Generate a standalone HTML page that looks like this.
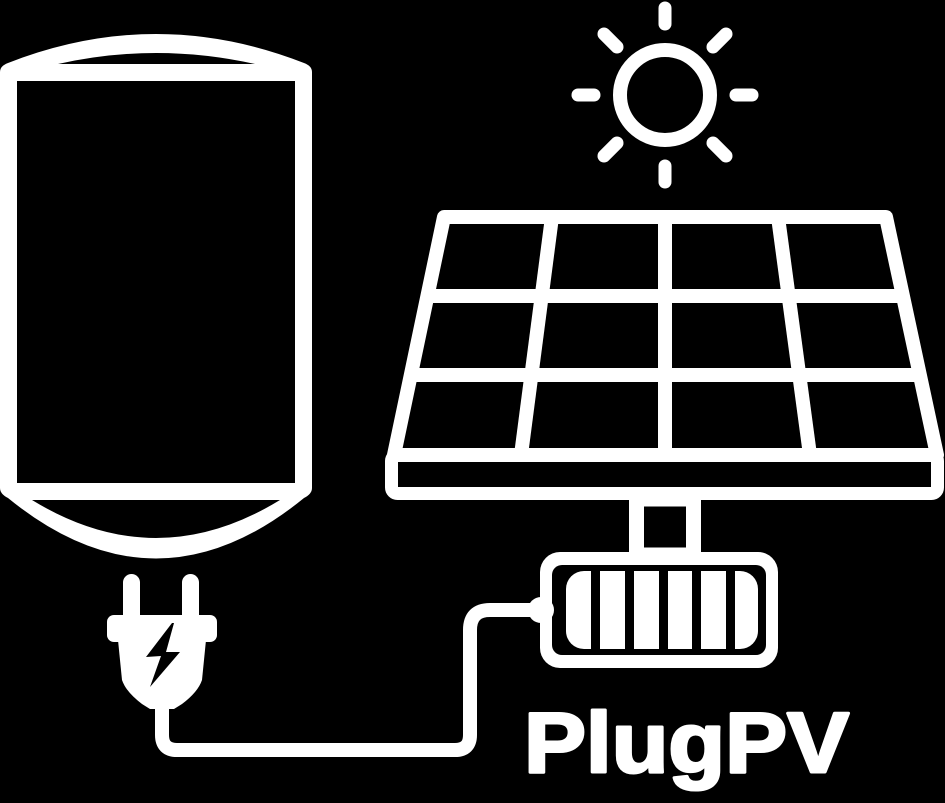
<!DOCTYPE html>
<html><head><meta charset="utf-8"><style>html,body{margin:0;padding:0;background:#000;}svg{display:block}</style></head>
<body>
<svg width="945" height="803" viewBox="0 0 945 803" xmlns="http://www.w3.org/2000/svg">
<rect width="945" height="803" fill="#000"/>
<!-- tank -->
<path d="M0,72 Q0,66 8,63 Q156,5 304,63 Q312,66 312,72 L312,488 Q312,494 304,498 Q156,619 8,498 Q0,494 0,488 Z" fill="#fff"/>
<path d="M58,64 Q156,42 255,64 Z" fill="#000"/>
<rect x="17" y="81" width="278" height="402" fill="#000"/>
<path d="M32,500 Q156,576 280,500 Z" fill="#000"/>
<!-- sun -->
<g stroke="#fff" stroke-width="13" stroke-linecap="round" fill="none">
<circle cx="665" cy="95" r="45" stroke-width="14"/>
<line x1="665" y1="8" x2="665" y2="24"/>
<line x1="665" y1="166" x2="665" y2="182"/>
<line x1="578" y1="95" x2="594" y2="95"/>
<line x1="736" y1="95" x2="752" y2="95"/>
<line x1="604" y1="34" x2="617" y2="47"/>
<line x1="726" y1="34" x2="713" y2="47"/>
<line x1="604" y1="156" x2="617" y2="143"/>
<line x1="726" y1="156" x2="713" y2="143"/>
</g>
<!-- panel -->
<g stroke="#fff" stroke-width="14" fill="none" stroke-linejoin="round">
<path d="M394,455 L444,217 L886,217 L937,455 Z"/>
<line x1="427" y1="296" x2="903" y2="296"/>
<line x1="411" y1="375" x2="920" y2="375"/>
<line x1="552" y1="217" x2="521" y2="455"/>
<line x1="665" y1="217" x2="665" y2="455"/>
<line x1="778" y1="217" x2="810" y2="455"/>
<rect x="391.5" y="455" width="546" height="38.5" rx="6" stroke-width="13"/>
<rect x="636.5" y="499" width="57" height="56" stroke-width="15"/>
</g>
<!-- battery -->
<rect x="540" y="552" width="238" height="116" rx="20" fill="#fff"/>
<rect x="552" y="565" width="214" height="90" rx="10" fill="#000"/>
<rect x="566" y="571" width="192" height="78" rx="18" fill="#fff"/>
<g fill="#000">
<rect x="591" y="571" width="9" height="78"/>
<rect x="625" y="571" width="9" height="78"/>
<rect x="659" y="571" width="9" height="78"/>
<rect x="692" y="571" width="9" height="78"/>
<rect x="726" y="571" width="9" height="78"/>
</g>
<circle cx="541" cy="610" r="13" fill="#fff"/>
<!-- cord -->
<path d="M162,700 L162,735 Q162,750 177,750 L455,750 Q470,750 470,735 L470,630 Q470,610 490,610 L538,610" stroke="#fff" stroke-width="14" fill="none"/>
<!-- plug -->
<g fill="#fff">
<rect x="123" y="574" width="17" height="50" rx="8.5"/>
<rect x="182" y="574" width="17" height="50" rx="8.5"/>
<rect x="107" y="615" width="110" height="27" rx="7"/>
<path d="M118,640 L206,640 L202,680 Q198,692 182,704 L174,709 L150,709 L142,704 Q126,692 122,680 Z"/>
</g>
<path d="M172,623 L146,657 L161,656 L150,687 L180,652 L166,652 L174,623 Z" fill="#000"/>
<!-- text -->
<text x="524" y="772" font-family="'Liberation Sans', sans-serif" font-weight="bold" font-size="85" fill="#fff" stroke="#fff" stroke-width="3" stroke-linejoin="round" textLength="325" lengthAdjust="spacingAndGlyphs">PlugPV</text>
</svg>
</body></html>
